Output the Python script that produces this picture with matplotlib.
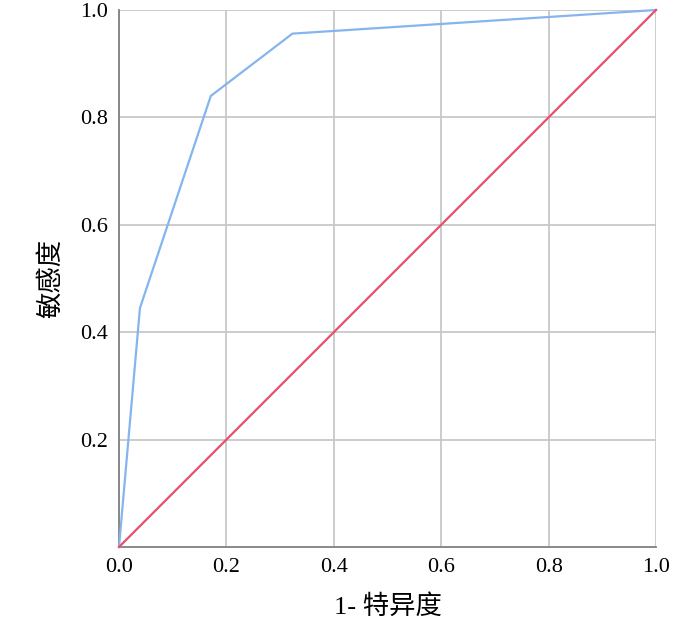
import matplotlib
matplotlib.use("Agg")
import matplotlib.pyplot as plt

fpr = [0.0, 0.039, 0.171, 0.323, 1.0]
tpr = [0.0, 0.445, 0.840, 0.956, 1.0]
ref_x = [0.0, 1.0]
ref_y = [0.0, 1.0]
xticks = [0.0, 0.2, 0.4, 0.6, 0.8, 1.0]
yticks = [0.2, 0.4, 0.6, 0.8, 1.0]
xlabel = "1- 特异度"
ylabel = "敏感度"

fam = ['Liberation Serif', 'Noto Sans CJK SC', 'DejaVu Sans']
plt.rcParams['font.family'] = fam

fig = plt.figure(figsize=(6.79, 6.37), dpi=100)
ax = fig.add_axes([119/679, 90/637, 537/679, 537/637])

ax.plot(fpr, tpr, color='#86B4EE', lw=1.6, zorder=3, clip_on=False)
ax.plot(ref_x, ref_y, color='#E8506F', lw=1.6, zorder=3, clip_on=False)

ax.set_xlim(0, 1)
ax.set_ylim(0, 1)
ax.set_xticks(xticks)
ax.set_yticks(yticks)
ax.set_xticklabels([f"{t:.1f}" for t in xticks])
ax.set_yticklabels([f"{t:.1f}" for t in yticks])
ax.tick_params(length=0, labelsize=16, pad=8)
ax.grid(True, color='#C8C8C8', lw=1.3)
ax.set_axisbelow(True)
for s in ['top', 'right']:
    ax.spines[s].set_visible(False)
for s in ['left', 'bottom']:
    ax.spines[s].set_color('#808080')
    ax.spines[s].set_linewidth(1.3)

ax.set_xlabel(xlabel, fontsize=19, labelpad=12)
ax.set_ylabel(ylabel, fontsize=19, labelpad=12)

fig.savefig("out.png", dpi=100)
